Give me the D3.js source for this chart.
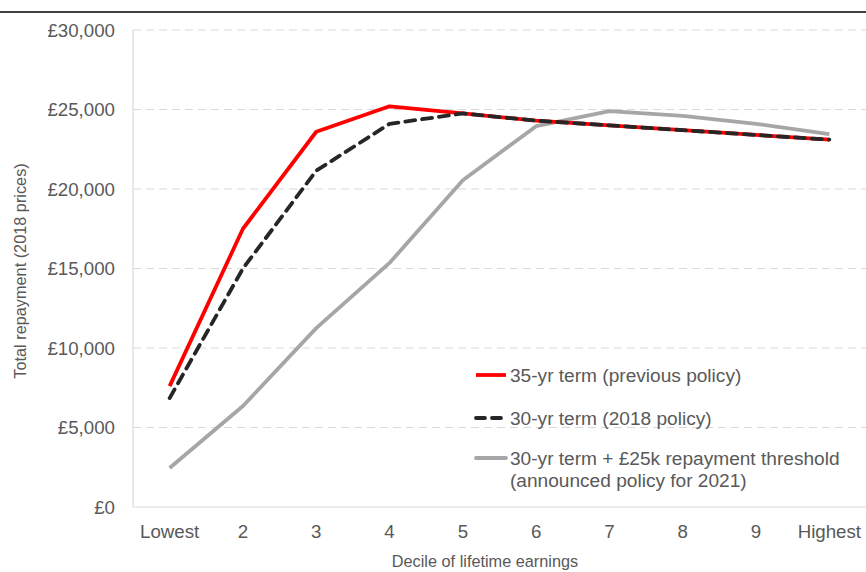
<!DOCTYPE html>
<html>
<head>
<meta charset="utf-8">
<script src="https://cdn.jsdelivr.net/npm/d3@7"></script>
<style>
  html, body { margin: 0; padding: 0; background: #fff; }
  svg { display: block; font-family: "Liberation Sans", Arial, sans-serif; }
</style>
</head>
<body>
<svg id="chart" width="866" height="572"></svg>
<script>
const categories = ["Lowest", "2", "3", "4", "5", "6", "7", "8", "9", "Highest"];
const prevPolicy = [7600, 17500, 23600, 25200, 24750, 24300, 24000, 23700, 23400, 23100];
const policy2018 = [6850, 15000, 21150, 24100, 24750, 24300, 24000, 23700, 23400, 23100];
const policy2021 = [2450, 6350, 11250, 15350, 20550, 23950, 24900, 24600, 24100, 23450];
const yTicks = [0, 5000, 10000, 15000, 20000, 25000, 30000];
const seriesNames = [
  ["35-yr term (previous policy)"],
  ["30-yr term (2018 policy)"],
  ["30-yr term + £25k repayment threshold", "(announced policy for 2021)"]
];

const svg = d3.select("#chart");
const W = 866, H = 572;
const plotLeft = 133, plotRight = 866, plotTop = 30, plotBottom = 507;

// top rule
svg.append("line").attr("x1", 0).attr("x2", W).attr("y1", 12).attr("y2", 12)
  .attr("stroke", "#000").attr("stroke-width", 1.5);

const x = d3.scaleBand().domain(categories).range([plotLeft, plotRight]);
const y = d3.scaleLinear().domain([0, 30000]).range([plotBottom, plotTop]);

// gridlines
svg.append("g").selectAll("line").data(yTicks.filter(t => t > 0)).join("line")
  .attr("x1", plotLeft).attr("x2", plotRight)
  .attr("y1", d => y(d)).attr("y2", d => y(d))
  .attr("stroke", "#d9d9d9").attr("stroke-width", 1.2)
  .attr("stroke-dasharray", "8,5");

// axes lines
svg.append("line").attr("x1", plotLeft).attr("x2", plotLeft).attr("y1", plotTop).attr("y2", plotBottom)
  .attr("stroke", "#d9d9d9").attr("stroke-width", 1.2);
svg.append("line").attr("x1", plotLeft).attr("x2", plotRight).attr("y1", plotBottom).attr("y2", plotBottom)
  .attr("stroke", "#d9d9d9").attr("stroke-width", 1.2);

const fmt = d => "£" + d3.format(",")(d);

// y tick labels
svg.append("g").selectAll("text").data(yTicks).join("text")
  .attr("x", 115).attr("y", d => y(d) + 6.5)
  .attr("text-anchor", "end").attr("font-size", 18.7).attr("fill", "#595959")
  .text(fmt);

// x tick labels
svg.append("g").selectAll("text").data(categories).join("text")
  .attr("x", d => x(d) + x.bandwidth() / 2).attr("y", 538)
  .attr("text-anchor", "middle").attr("font-size", 18.7).attr("fill", "#595959")
  .text(d => d);

// axis titles
svg.append("text").attr("x", 485).attr("y", 567).attr("text-anchor", "middle")
  .attr("font-size", 16.3).attr("fill", "#595959").text("Decile of lifetime earnings");
svg.append("text").attr("transform", "translate(26,271) rotate(-90)")
  .attr("text-anchor", "middle").attr("font-size", 16.3).attr("fill", "#595959")
  .text("Total repayment (2018 prices)");

const line = d3.line()
  .x((d, i) => x(categories[i]) + x.bandwidth() / 2)
  .y(d => y(d));

svg.append("path").datum(policy2021).attr("d", line).attr("fill", "none")
  .attr("stroke", "#a6a6a6").attr("stroke-width", 3.8).attr("stroke-linejoin", "round");
svg.append("path").datum(prevPolicy).attr("d", line).attr("fill", "none")
  .attr("stroke", "#ff0000").attr("stroke-width", 3.8).attr("stroke-linejoin", "round");
svg.append("path").datum(policy2018).attr("d", line).attr("fill", "none")
  .attr("stroke", "#262626").attr("stroke-width", 3.8).attr("stroke-linejoin", "round")
  .attr("stroke-dasharray", "10,7").attr("stroke-linecap", "round");

// legend
const legend = [
  { color: "#ff0000", dash: null, y: 375, cap: "butt" },
  { color: "#262626", dash: "9,7", y: 418, cap: "round" },
  { color: "#a6a6a6", dash: null, y: 458, cap: "round" }
];
legend.forEach((l, i) => {
  svg.append("line").attr("x1", 476).attr("x2", 506).attr("y1", l.y).attr("y2", l.y)
    .attr("stroke", l.color).attr("stroke-width", 3.8)
    .attr("stroke-linecap", l.cap)
    .attr("stroke-dasharray", l.dash);
  const t = svg.append("text").attr("x", 510).attr("y", l.y + 6.7)
    .attr("font-size", 19.1).attr("fill", "#595959");
  seriesNames[i].forEach((s, j) => {
    t.append("tspan").attr("x", 510).attr("dy", j === 0 ? 0 : 22).text(s);
  });
});
</script>
</body>
</html>
